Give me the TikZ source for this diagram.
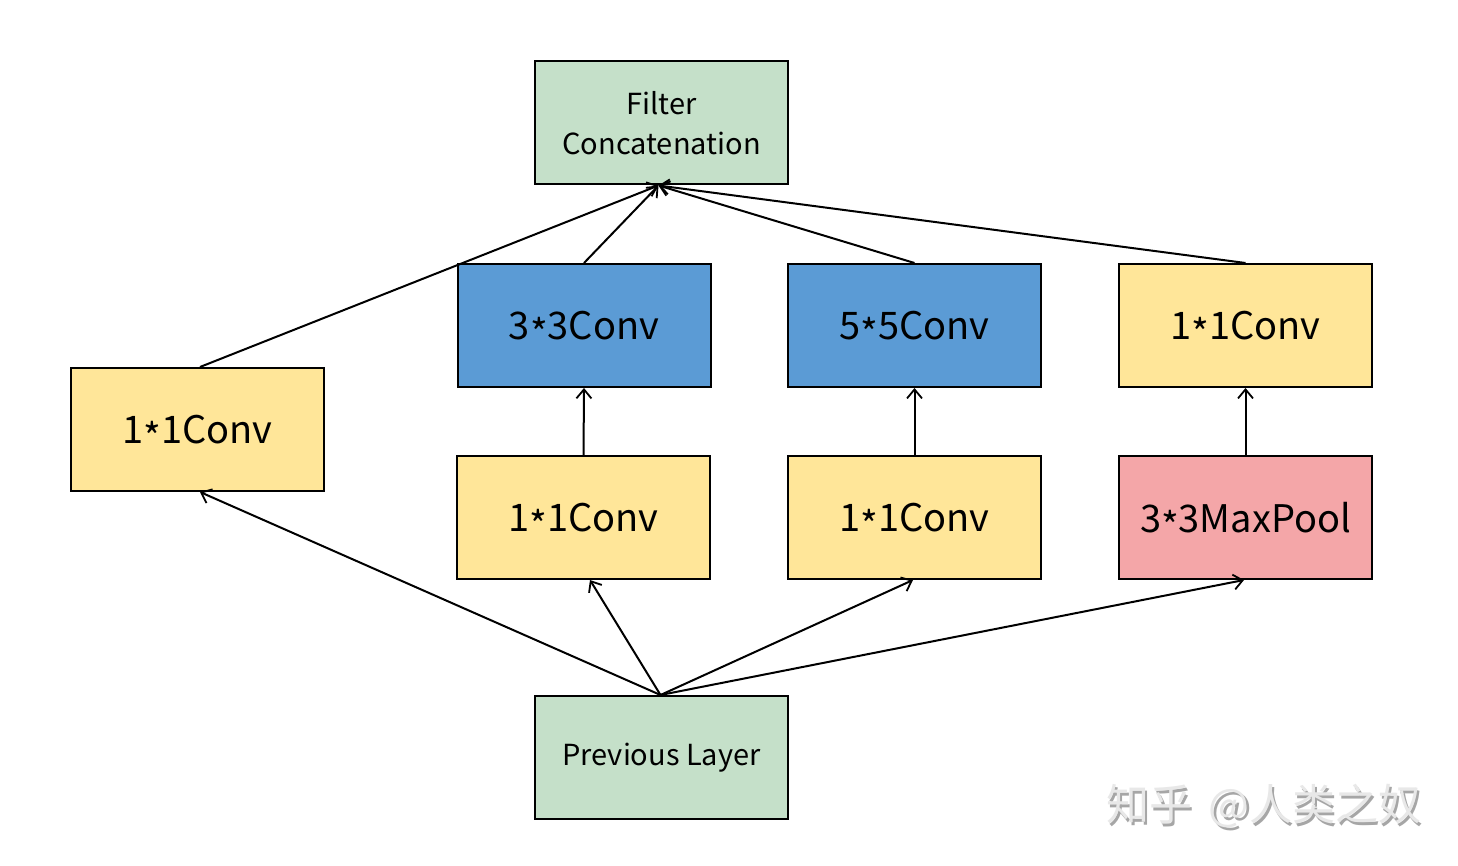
\documentclass[tikz,border=0pt]{standalone}
\usepackage{fontspec}
\setmainfont{Noto Sans CJK SC}
\newfontfamily\cjk{Noto Sans CJK SC}
\usetikzlibrary{arrows.meta}
\definecolor{cgreen}{HTML}{C5E0C9}
\definecolor{cyellow}{HTML}{FFE699}
\definecolor{cblue}{HTML}{5B9BD5}
\definecolor{cpink}{HTML}{F4A6A8}
\newcommand\myast{\smash{\raisebox{-0.22em}{*}}}
\tikzset{
  blk/.style={draw=black, line width=2pt, minimum width=253pt, minimum height=123pt, inner sep=0pt, font=\fontsize{38}{42}\selectfont, align=center},
  small/.style={font=\fontsize{29}{40}\selectfont},
  arr/.style={-{Straight Barb[length=9pt,width=15pt,line width=1.8pt]}, line width=2pt}
}
\begin{document}
\begin{tikzpicture}[x=1pt,y=-1pt]
\useasboundingbox[fill=white] (0,0) rectangle (1458,866);
\node[blk, small, fill=cgreen] (fc) at (661.5,123) {Filter\\Concatenation};
\node[blk, fill=cblue] (c33) at (584,325.5) {3\myast3Conv};
\node[blk, fill=cblue] (c55) at (914.5,325.5) {5\myast5Conv};
\node[blk, fill=cyellow] (c11r) at (1245.5,325.5) {1\myast1Conv};
\node[blk, fill=cyellow] (c11l) at (197.5,429.5) {1\myast1Conv};
\node[blk, fill=cyellow] (c11a) at (583.5,517.5) {1\myast1Conv};
\node[blk, fill=cyellow] (c11b) at (914.5,517.5) {1\myast1Conv};
\node[blk, fill=cpink] (mp) at (1245.5,517.5) {3\myast3MaxPool};
\node[blk, small, fill=cgreen] (pl) at (661.5,757.5) {Previous Layer};
\coordinate (plt) at ([xshift=-1pt]pl.north);
\coordinate (fcb) at ([xshift=-3pt]fc.south);
% bottom to middle
\draw[arr] (plt) -- ([xshift=2.5pt]c11l.south);
\draw[arr] (plt) -- ([xshift=6.5pt]c11a.south);
\draw[arr] (plt) -- ([xshift=-1.5pt]c11b.south);
\draw[arr] (plt) -- ([xshift=-1.5pt]mp.south);
% verticals
\draw[arr] (c11a.north) -- (c33.south);
\draw[arr] (c11b.north) -- (c55.south);
\draw[arr] (mp.north) -- (c11r.south);
% to filter concatenation
\draw[arr] ([xshift=2.5pt]c11l.north) -- (fcb);
\draw[arr] (c33.north) -- (fcb);
\draw[arr] (c55.north) -- (fcb);
\draw[arr] (c11r.north) -- (fcb);
% watermark
\node[anchor=west, text=gray!70, font=\cjk\fontsize{43}{46}\selectfont] (wms) at (1105,809) {知乎 \,@人类之奴};
\node[anchor=west, text=gray!18, font=\cjk\fontsize{43}{46}\selectfont] (wm) at (1102.5,806.5) {知乎 \,@人类之奴};
\end{tikzpicture}
\end{document}
